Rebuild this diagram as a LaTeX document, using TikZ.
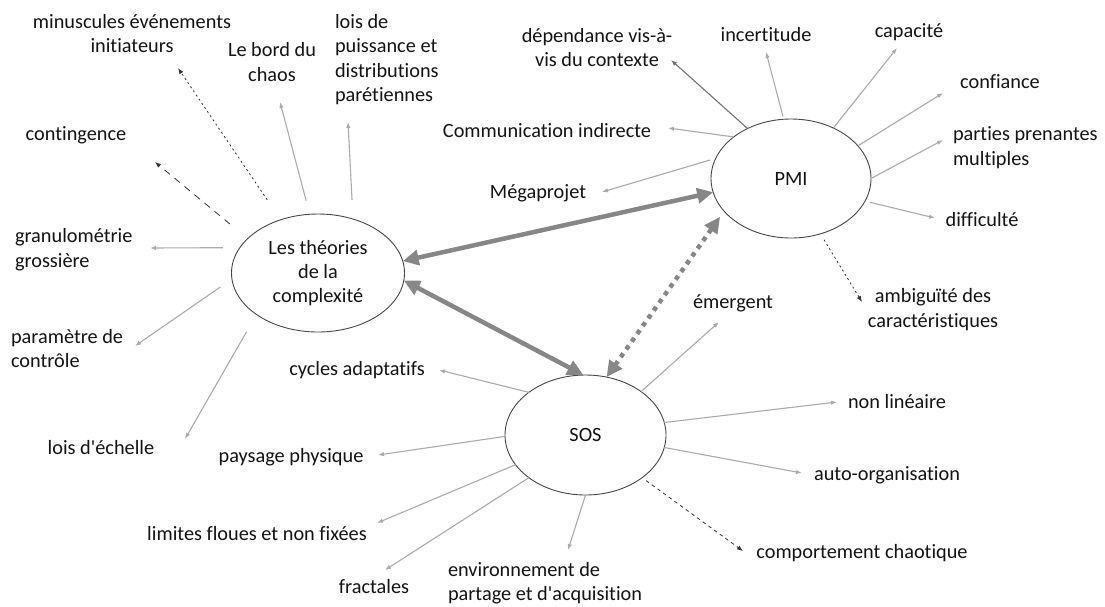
\documentclass[tikz,border=0pt]{standalone}
\usepackage{fontspec}
\setmainfont{Carlito}[Ligatures={TeXOff,NoCommon}]
\usetikzlibrary{arrows.meta,shapes.geometric}

\begin{document}
\begin{tikzpicture}[x=1pt,y=-1pt,
  txt/.style={inner sep=0pt, outer sep=0pt, font=\fontsize{20.3}{24.4}\selectfont, text=black!92},
  hub/.style={ellipse, draw=black!72, line width=0.9pt, fill=white, inner sep=0pt, outer sep=0pt,
              font=\fontsize{20.3}{24.4}\selectfont, text=black!92, align=center},
  feat/.style={draw=black!33, line width=1.1pt, -{Latex[length=6pt,width=4.5pt]}},
  featdot/.style={draw=black!80, line width=0.8pt, dash pattern=on 2pt off 3pt, -{Latex[length=6pt,width=4.5pt]}},
  featdash/.style={draw=black!80, line width=0.8pt, dash pattern=on 3.5pt off 3.5pt, -{Latex[length=6pt,width=4.5pt]}},
  featlong/.style={draw=black!80, line width=0.8pt, dash pattern=on 7pt off 6pt, -{Latex[length=6pt,width=4.5pt]}},
  link/.style={draw=black!47, line width=4.5pt,
               {Triangle[length=16pt,width=15pt]}-{Triangle[length=16pt,width=15pt]}},
  linkdot/.style={draw=black!47, line width=4.5pt, dash pattern=on 4.5pt off 5pt,
               {Triangle[length=16pt,width=15pt]}-{Triangle[length=16pt,width=15pt]}},
]
\path[use as bounding box, fill=white] (0,0) rectangle (1105,606);

% the three hubs
\node[hub, minimum width=173pt, minimum height=118pt] (cx) at (318,273) {Les théories\\de la\\complexité};
\node[hub, minimum width=160pt, minimum height=119pt] (pmi) at (791,178.5) {PMI};
\node[hub, minimum width=161pt, minimum height=120pt] (sos) at (585.5,435) {SOS};

% labels around the complexity hub
\node[txt, align=center] (l1) at (132,33.5) {minuscules événements\\initiateurs};
\node[txt, align=center] (l2) at (272,62) {Le bord du\\chaos};
\node[txt, align=left, anchor=west] (l3) at (335,59.5) {lois de\\puissance et\\distributions\\parétiennes};
\node[txt] (l4) at (76,135) {contingence};
\node[txt, align=left, anchor=west] (l5) at (15,249.5) {granulométrie\\grossière};
\node[txt, align=left, anchor=west] (l6) at (11,348.5) {paramètre de\\contrôle};
\node[txt] (l7) at (101,448) {lois d'échelle};

% labels around the PMI hub
\node[txt, align=center] (p1) at (597,47.5) {dépendance vis-à-\\vis du contexte};
\node[txt] (p2) at (766,35) {incertitude};
\node[txt] (p3) at (909,32) {capacité};
\node[txt] (p4) at (1000,82) {confiance};
\node[txt, align=left, anchor=west] (p5) at (953,147.5) {parties prenantes\\multiples};
\node[txt] (p6) at (982,220) {difficulté};
\node[txt, align=center] (p7) at (933,309.5) {ambiguïté des\\caractéristiques};
\node[txt] (p8) at (547,131) {Communication indirecte};
\node[txt] (p9) at (538,193) {Mégaprojet};

% labels around the SOS hub
\node[txt] (s1) at (733,303) {émergent};
\node[txt] (s2) at (897,402) {non linéaire};
\node[txt] (s3) at (887,475) {auto-organisation};
\node[txt] (s4) at (862,553) {comportement chaotique};
\node[txt, align=left, anchor=west] (s5) at (448,583) {environnement de\\partage et d'acquisition};
\node[txt] (s6) at (374,587) {fractales};
\node[txt] (s7) at (257,534) {limites floues et non fixées};
\node[txt] (s8) at (291,457) {paysage physique};
\node[txt] (s9) at (357,370) {cycles adaptatifs};

% arrow tips next to the labels
\coordinate (t1) at (178,68);
\coordinate (t2) at (280,102);
\coordinate (t3) at (348,122);
\coordinate (t4) at (155,162);
\coordinate (t5) at (150,248);
\coordinate (t6) at (135,346);
\coordinate (t7) at (185,439);
\coordinate (u1) at (671,60);
\coordinate (u2) at (766,52);
\coordinate (u3) at (897,48);
\coordinate (u4) at (943,93);
\coordinate (u5) at (943,140);
\coordinate (u6) at (935,218);
\coordinate (u7) at (862,302);
\coordinate (u8) at (668,128);
\coordinate (u9) at (602,192);
\coordinate (v1) at (719,322);
\coordinate (v2) at (837,402);
\coordinate (v3) at (802,473);
\coordinate (v4) at (743,551);
\coordinate (v5) at (568,550);
\coordinate (v6) at (385,570);
\coordinate (v7) at (377,523);
\coordinate (v8) at (378,455);
\coordinate (v9) at (439,370);

% complexity features
\draw[featdot, shorten <=24pt] (cx.125) -- (t1);
\draw[feat, shorten <=14pt] (cx.98) -- (t2);
\draw[feat, shorten <=19pt] (cx.57) -- (t3);
\draw[featlong, shorten <=23pt] (cx.154) -- (t4);
\draw[feat, shorten <=17pt] (cx.162.3) -- (t5);
\draw[feat, shorten <=14pt] (cx.184.5) -- (t6);
\draw[feat, shorten <=20pt] (cx.214.9) -- (t7);

% PMI features
\draw[feat, draw=black!55] (pmi.131.6) -- (u1);
\draw[feat, shorten <=3pt] (pmi.97.6) -- (u2);
\draw[feat] (pmi.50.9) -- (u3);
\draw[feat] (pmi.26.3) -- (u4);
\draw[feat] (pmi.0.4) -- (u5);
\draw[feat, shorten <=5pt] (pmi.343.1) -- (u6);
\draw[featdot, shorten <=7pt] (pmi.298.8) -- (u7);
\draw[feat] (pmi.144.4) -- (u8);
\draw[feat, shorten <=6pt] (pmi.165) -- (u9);

% SOS features
\draw[feat] (sos.38) -- (v1);
\draw[feat] (sos.9) -- (v2);
\draw[feat] (sos.351.6) -- (v3);
\draw[featdash, shorten <=5pt] (sos.323.9) -- (v4);
\draw[feat] (sos.270) -- (v5);
\draw[feat] (sos.217.8) -- (v6);
\draw[feat] (sos.203) -- (v7);
\draw[feat] (sos.181.4) -- (v8);
\draw[feat] (sos.143.7) -- (v9);

% links between the hubs
\draw[link] (cx.8.5) -- (pmi.190);
\draw[link] (cx.355.6) -- (sos.92.4);
\draw[linkdot, shorten >=7pt] (sos.70) -- (pmi.206.6);
\end{tikzpicture}
\end{document}
